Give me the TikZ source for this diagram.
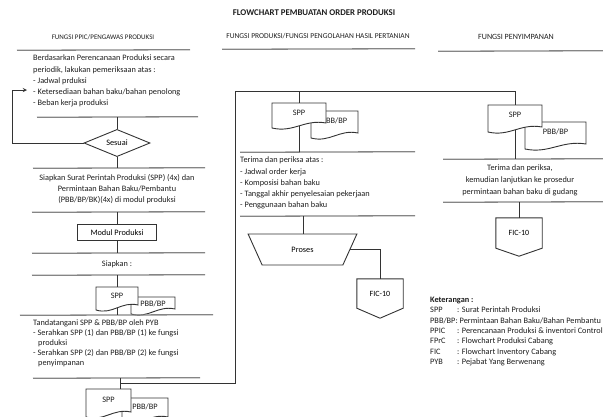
\documentclass[tikz,border=0pt]{standalone}
\usepackage{fontspec}
\setmainfont{Carlito}
\usetikzlibrary{positioning,shapes.geometric}

\definecolor{tinta}{HTML}{333333}
\definecolor{huruf}{HTML}{1E1E1E}
\definecolor{abu}{HTML}{858585}

\tikzset{
  teks/.style={font=\fontsize{8.3}{11.2}\selectfont, text=huruf, inner sep=0pt},
  ket/.style={font=\fontsize{8.3}{10.3}\selectfont, text=huruf, inner sep=0pt},
  judul/.style={font=\fontsize{8.8}{10}\selectfont\bfseries, text=huruf, inner sep=0pt},
  kepala/.style={font=\fontsize{7}{8}\selectfont, text=huruf, inner sep=0pt},
  pemisah/.style={draw=abu, line width=1.3pt},
  alur/.style={draw=tinta, line width=0.9pt},
  kotak/.style={draw=tinta, line width=0.9pt, fill=white, minimum width=79pt,
    minimum height=15.5pt, inner sep=0pt, font=\fontsize{8.3}{10}\selectfont},
  putusan/.style={diamond, draw=tinta, line width=0.9pt, minimum width=66pt,
    minimum height=27pt, inner sep=0pt, font=\fontsize{8.3}{10}\selectfont},
  proses/.style={trapezium, draw=tinta, line width=0.9pt, trapezium stretches=true,
    trapezium angle=54.6, shape border rotate=180, minimum width=109pt,
    minimum height=31pt, inner sep=0pt, font=\fontsize{8.3}{10}\selectfont},
  konektor/.style={minimum width=46pt, minimum height=29pt, inner sep=0pt,
    font=\fontsize{8}{10}\selectfont}
}

% dokumen: nama, x, y, lebar, tinggi, teks
\newcommand{\dokumen}[6]{%
  \draw[alur, fill=white] (#2,#3) -- (#2+#4,#3) -- (#2+#4,#3+#5-5)
    .. controls (#2+0.6*#4,#3+#5-9) and (#2+0.4*#4,#3+#5+5) .. (#2,#3+#5) -- cycle;
  \node[teks] (#1) at (#2+0.5*#4,#3+0.38*#5) {#6};
  \coordinate (#1-t) at (#2+0.5*#4,#3);
  \coordinate (#1-b) at (#2+0.5*#4,#3+#5-2);
}
% garis pemisah: x kiri, x kanan, y
\newcommand{\pisah}[3]{\draw[pemisah] (#1,#3+0.3) -- (#2,#3-0.3);}

\begin{document}
\begin{tikzpicture}[x=1pt,y=-1pt,>=stealth]
\useasboundingbox (0,0) rectangle (603,416);
\clip (0,0) rectangle (603,416);

% judul dan kolom
\node[judul] (judul) at (314,13) {FLOWCHART PEMBUATAN ORDER PRODUKSI};
\node[kepala] (f1) at (103,37) {FUNGSI PPIC/PENGAWAS PRODUKSI};
\node[kepala, font=\fontsize{7.5}{8}\selectfont] (f2) at (318,36) {FUNGSI PRODUKSI/FUNGSI PENGOLAHAN HASIL PERTANIAN};
\node[kepala, font=\fontsize{8}{9}\selectfont] (f3) at (516,37) {FUNGSI PENYIMPANAN};
\pisah{17}{190}{50}
\pisah{222}{415}{49}
\pisah{438}{603}{51}

% kolom PPIC
\node[teks, anchor=north west, align=left] (cek) at (33,55)
  {Berdasarkan Perencanaan Produksi secara\\periodik, lakukan pemeriksaan atas :\\
   - Jadwal prduksi\\- Ketersediaan bahan baku/bahan penolong\\- Beban kerja produksi};
\pisah{37}{198}{117}
\coordinate (s1) at (117,117);
\node[putusan] (sesuai) at (117,143) {Sesuai};
\draw[alur] (s1) -- (sesuai.north);
\coordinate (kiri) at (12,143);
\coordinate (balik) at (27,90);
\draw[alur,->] (sesuai.west) -- (kiri) |- (balik);

\pisah{33}{205}{168}
\coordinate (s2) at (117,168);
\draw[alur] (sesuai.south) -- (s2);
\node[teks, anchor=north, align=center] (siapkan) at (117,174)
  {Siapkan Surat Perintah Produksi (SPP) (4x) dan\\Permintaan Bahan Baku/Pembantu\\
   (PBB/BP/BK)(4x) di modul produksi};
\pisah{32}{205}{212}
\coordinate (s3) at (117,212);
\node[kotak] (modul) at (117,232.5) {Modul Produksi};
\draw[alur] (s3) -- (modul.north);
\pisah{32}{205}{253}
\coordinate (s4) at (117,253);
\draw[alur] (modul.south) -- (s4);
\node[teks] (siap) at (117,264) {Siapkan :};
\pisah{32}{205}{275}
\coordinate (s5) at (117,275);
\dokumen{pbb1}{131}{297}{44}{17}{PBB/BP}
\dokumen{spp1}{96}{287}{42}{23}{SPP}
\draw[alur] (s5) -- (spp1-t);
\pisah{20}{213}{315}
\coordinate (s6) at (117,315);
\draw[alur] (spp1-b) -- (s6);
\node[teks, anchor=north west, align=left, font=\fontsize{8.3}{9.9}\selectfont] (ttd) at (33,320)
  {Tandatangani SPP \& PBB/BP oleh PYB\\- Serahkan SPP (1) dan PBB/BP (1) ke fungsi\\
   \hspace*{5pt}produksi\\- Serahkan SPP (2) dan PBB/BP (2) ke fungsi\\\hspace*{5pt}penyimpanan};
\pisah{33}{200}{378}
\coordinate (s7) at (120,378);
\coordinate (cabang) at (120,383);
\dokumen{pbb4}{122}{398}{46}{24}{PBB/BP}
\dokumen{spp4}{86}{389}{45}{28}{SPP}
\draw[alur] (s7) -- (s7 |- spp4-t);

% kolom produksi
\coordinate (atas) at (235,91);
\dokumen{pbb2}{311}{111}{47}{27}{PBB/BP}
\dokumen{spp2}{272}{103}{54}{25}{SPP}
\dokumen{pbb3}{525}{122}{61}{27}{PBB/BP}
\dokumen{spp3}{488}{105}{54}{27}{SPP}
\draw[alur] (cabang) -| (atas) -| (spp3-t);
\draw[alur] (spp2-t |- atas) -- (spp2-t);
\pisah{240}{415}{152}
\coordinate (s8) at (299,152);
\draw[alur] (spp2-b) -- (s8);
\node[teks, anchor=north west, align=left] (terima) at (240,157)
  {Terima dan periksa atas :\\- Jadwal order kerja\\- Komposisi bahan baku\\
   - Tanggal akhir penyelesaian pekerjaan\\- Penggunaan bahan baku};
\pisah{240}{415}{216}
\coordinate (s9) at (303,216);
\node[proses] (proses) at (302.5,249.5) {Proses};
\draw[alur] (s9) -- (s9 |- proses.north);
\node[konektor] (fic1) at (380,293.5) {FIC-10};
\draw[alur] (fic1.north west) -- (fic1.north east) -- (fic1.south east)
  -- ([yshift=-10pt]fic1.south) -- (fic1.south west) -- cycle;
\draw[alur] (proses.east) -| (fic1.north);

% kolom penyimpanan
\pisah{443}{603}{159}
\coordinate (s10) at (515,159);
\draw[alur] (spp3-b) -- (s10);
\node[teks, anchor=north, align=center, font=\fontsize{8.3}{12}\selectfont] (terima2) at (520,165)
  {Terima dan periksa,\\kemudian lanjutkan ke prosedur\\permintaan bahan baku di gudang};
\pisah{443}{603}{202}
\coordinate (s11) at (519,202);
\node[konektor, minimum height=30pt] (fic2) at (519,233) {FIC-10};
\draw[alur] (fic2.north west) -- (fic2.north east) -- (fic2.south east)
  -- ([yshift=-8pt]fic2.south) -- (fic2.south west) -- cycle;
\draw[alur] (s11) -- (fic2.north);

% keterangan
\node[ket, anchor=north west, align=left] (keterangan) at (430,297)
  {\textbf{Keterangan :}\\
   \makebox[27pt][l]{SPP}: Surat Perintah Produksi\\
   PBB/BP: Permintaan Bahan Baku/Bahan Pembantu\\
   \makebox[27pt][l]{PPIC}: Perencanaan Produksi \& inventori Control\\
   \makebox[27pt][l]{FPrC}: Flowchart Produksi Cabang\\
   \makebox[27pt][l]{FIC}: Flowchart Inventory Cabang\\
   \makebox[27pt][l]{PYB}: Pejabat Yang Berwenang};
\end{tikzpicture}
\end{document}
